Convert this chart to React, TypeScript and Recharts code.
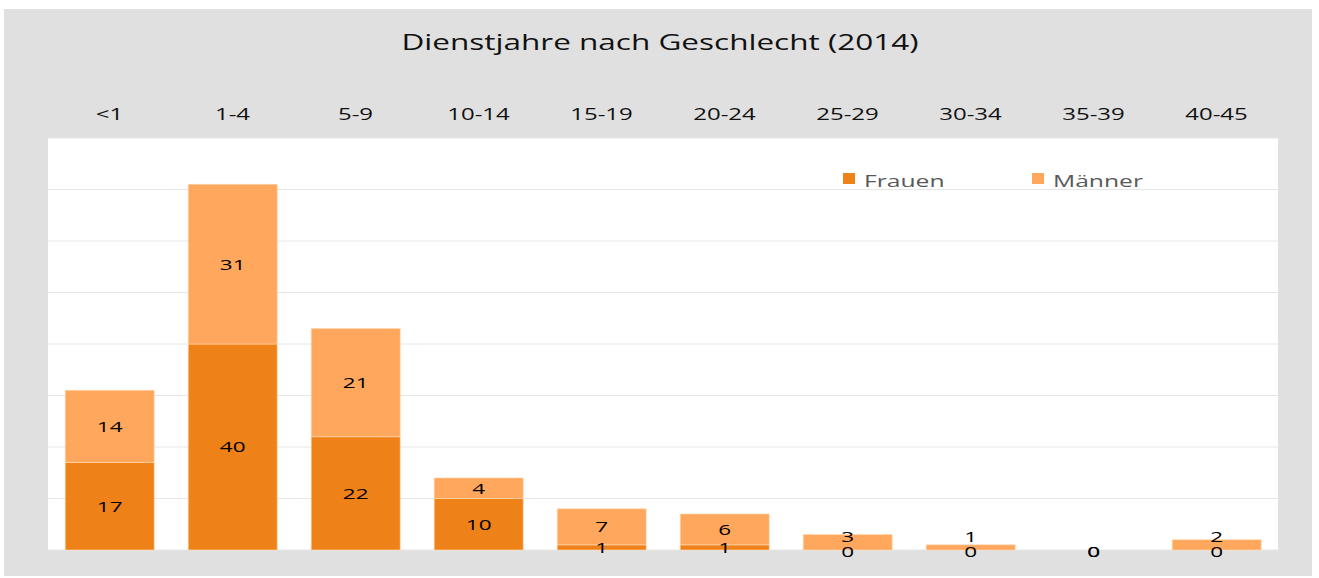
import React from 'react';
import { BarChart, Bar, XAxis, YAxis, CartesianGrid, LabelList, Cell } from 'recharts';

const categories = ['<1', '1-4', '5-9', '10-14', '15-19', '20-24', '25-29', '30-34', '35-39', '40-45'];
const frauen = [17, 40, 22, 10, 1, 1, 0, 0, 0, 0];
const maenner = [14, 31, 21, 4, 7, 6, 3, 1, 0, 2];
const yTicks = [0, 10, 20, 30, 40, 50, 60, 70, 80];

const data = categories.map((name, i) => ({ name, Frauen: frauen[i], Männer: maenner[i] }));

const FONT = '"Open Sans", "DejaVu Sans", sans-serif';
const DARK = '#EE8219';
const LIGHT = '#FFA75C';
const EDGE = '#ffd8b0';
// the source picture is stretched sideways, so text gets widened too
const STRETCH = 1.5;

const CategoryTick = (props: any) => {
  const { x, y, payload } = props;
  return (
    <g transform={`translate(${x},${y})`}>
      <text transform={`scale(${STRETCH},1)`} textAnchor="middle" fill="#111" fontSize={16} fontFamily={FONT}>
        {payload.value}
      </text>
    </g>
  );
};

const StretchText = ({ cx, cy, value }: { cx: number; cy: number; value: any }) => (
  <g transform={`translate(${cx},${cy})`}>
    <text
      transform={`scale(${STRETCH},1)`}
      textAnchor="middle"
      dominantBaseline="central"
      fill="#000"
      fontSize={15}
      fontFamily={FONT}
    >
      {value}
    </text>
  </g>
);

const FrauenLabel = (props: any) => {
  const { x, y, width, height, value } = props;
  let cy = Number(y) + Number(height) / 2;
  if (value === 0) cy += 2;
  return <StretchText cx={Number(x) + Number(width) / 2} cy={cy} value={value} />;
};

// like excel, push the upper label up when the lower segment is too thin
const MaennerLabel = (props: any) => {
  const { x, y, width, height, value, index } = props;
  let cy = Number(y) + Number(height) / 2;
  if (value === 0) cy += 2; // sits right on top of the frauen zero
  else if (frauen[index] <= 1) cy = Math.min(cy, Number(y) + Number(height) - 13);
  return <StretchText cx={Number(x) + Number(width) / 2} cy={cy} value={value} />;
};

const legendItems = [
  { label: 'Frauen', color: DARK },
  { label: 'Männer', color: LIGHT },
];

export default function App() {
  return (
    <div
      style={{
        position: 'absolute',
        left: 4,
        top: 9,
        width: 1308,
        height: 567,
        background: '#e0e0e0',
      }}
    >
      <div
        style={{
          position: 'absolute',
          top: 19,
          left: 0,
          width: 1312,
          textAlign: 'center',
          fontFamily: FONT,
          fontSize: 21,
          color: '#111',
          transform: `scaleX(${STRETCH})`,
        }}
      >
        Dienstjahre nach Geschlecht (2014)
      </div>
      <BarChart
        width={1308}
        height={567}
        data={data}
        margin={{ top: 89, right: 34, bottom: 26, left: 44 }}
        barCategoryGap="14%"
      >
        <CartesianGrid vertical={false} stroke="#e6e6e6" fill="#ffffff" />
        <XAxis
          dataKey="name"
          orientation="top"
          height={40}
          axisLine={false}
          tickLine={false}
          tickSize={0}
          tickMargin={18}
          interval={0}
          tick={<CategoryTick />}
        />
        <YAxis hide domain={[0, 80]} ticks={yTicks} />
        <Bar dataKey="Frauen" stackId="a" fill={DARK} strokeWidth={0.6} minPointSize={0.01} isAnimationActive={false}>
          {frauen.map((v, i) => (
            <Cell key={`f-${i}`} stroke={v === 0 ? 'none' : EDGE} />
          ))}
          <LabelList dataKey="Frauen" content={<FrauenLabel />} />
        </Bar>
        <Bar dataKey="Männer" stackId="a" fill={LIGHT} strokeWidth={0.6} minPointSize={0.01} isAnimationActive={false}>
          {maenner.map((v, i) => (
            <Cell key={`m-${i}`} stroke={v === 0 ? 'none' : EDGE} />
          ))}
          <LabelList dataKey="Männer" content={<MaennerLabel />} />
        </Bar>
      </BarChart>
      <div style={{ position: 'absolute', top: 160, left: 839, display: 'flex', fontFamily: FONT, fontSize: 17, color: '#595959' }}>
        {legendItems.map((item) => (
          <div key={item.label} style={{ display: 'flex', alignItems: 'center', width: 189 }}>
            <span style={{ display: 'inline-block', width: 12, height: 11, background: item.color, marginRight: 9, marginTop: -4 }} />
            <span style={{ display: 'inline-block', transform: `scaleX(1.45)`, transformOrigin: 'left center' }}>{item.label}</span>
          </div>
        ))}
      </div>
    </div>
  );
}
